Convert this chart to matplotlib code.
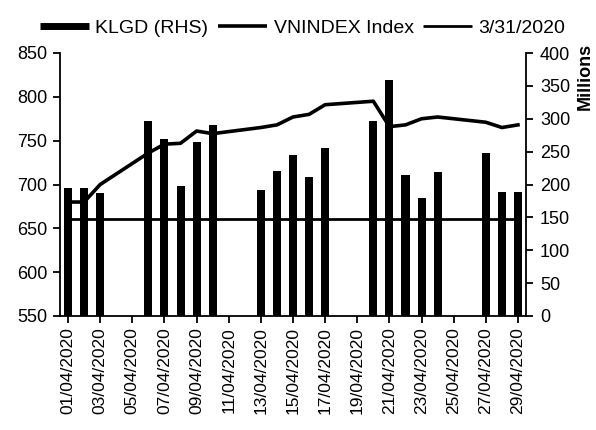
import matplotlib
matplotlib.use("Agg")
import matplotlib.pyplot as plt
import matplotlib.dates as mdates
from matplotlib.lines import Line2D
import pandas as pd

plt.rcParams['font.family'] = ['Liberation Sans', 'DejaVu Sans']

dates = ["2020-04-01", "2020-04-02", "2020-04-03", "2020-04-06", "2020-04-07",
         "2020-04-08", "2020-04-09", "2020-04-10", "2020-04-13", "2020-04-14",
         "2020-04-15", "2020-04-16", "2020-04-17", "2020-04-20", "2020-04-21",
         "2020-04-22", "2020-04-23", "2020-04-24", "2020-04-27", "2020-04-28",
         "2020-04-29"]
vnindex = [680, 680, 700, 736, 746, 747, 761, 758, 765, 768, 777, 780, 791,
           795, 766, 768, 775, 777, 771, 765, 768]
klgd = [195, 194, 187, 296, 269, 197, 264, 290, 191, 220, 245, 211, 256, 297,
        359, 215, 180, 219, 248, 189, 189]   # millions
ref_0331 = 661
tick_dates = pd.date_range("2020-04-01", "2020-04-29", freq="2D")

x = pd.to_datetime(dates)

fig = plt.figure(figsize=(5.96, 4.3), dpi=100)
ax = fig.add_axes([60/596, 1-316/430, 466/596, 263/430])
ax2 = ax.twinx()

ax2.bar(x, klgd, width=0.5, color="black")
ax.plot(x, vnindex, color="black", lw=2.6)
ax.plot([x[0], x[-1]], [ref_0331, ref_0331], color="black", lw=2)

ax.set_zorder(ax2.get_zorder() + 1)
ax.patch.set_visible(False)

ax.set_ylim(550, 850)
ax.set_yticks(range(550, 851, 50))
ax2.set_ylim(0, 400)
ax2.set_yticks(range(0, 401, 50))
ax.set_xlim(pd.Timestamp("2020-03-31 12:00"), pd.Timestamp("2020-04-29 12:00"))
ax.set_xticks(tick_dates)
ax.xaxis.set_major_formatter(mdates.DateFormatter("%d/%m/%Y"))

for a in (ax, ax2):
    a.spines["top"].set_visible(False)
    for s in a.spines.values():
        s.set_linewidth(1.3)
ax.spines["right"].set_visible(False)
ax2.spines["left"].set_visible(False)
ax2.spines["bottom"].set_visible(False)

ax.tick_params(axis="y", labelsize=13, length=5, width=1.3, pad=4)
ax.tick_params(axis="x", labelsize=12.5, length=5, width=1.3, pad=3,
               labelrotation=90)
ax2.tick_params(axis="y", labelsize=13, length=5, width=1.3, pad=5)

fig.text(585/596, 1-76/430, "Millions", rotation=90, fontsize=13,
         fontweight="bold", ha="center", va="center")

handles = [Line2D([], [], color="black", lw=5, solid_capstyle="butt"),
           Line2D([], [], color="black", lw=2.6, solid_capstyle="butt"),
           Line2D([], [], color="black", lw=2, solid_capstyle="butt")]
fig.legend(handles, ["KLGD (RHS)", "VNINDEX Index", "3/31/2020"],
           loc="center left", bbox_to_anchor=(40/596, 1-28/430), ncol=3,
           frameon=False, fontsize=14, handlelength=2.5, handletextpad=0.35,
           columnspacing=0.5, borderpad=0, borderaxespad=0)

fig.savefig("out.png", dpi=100)
